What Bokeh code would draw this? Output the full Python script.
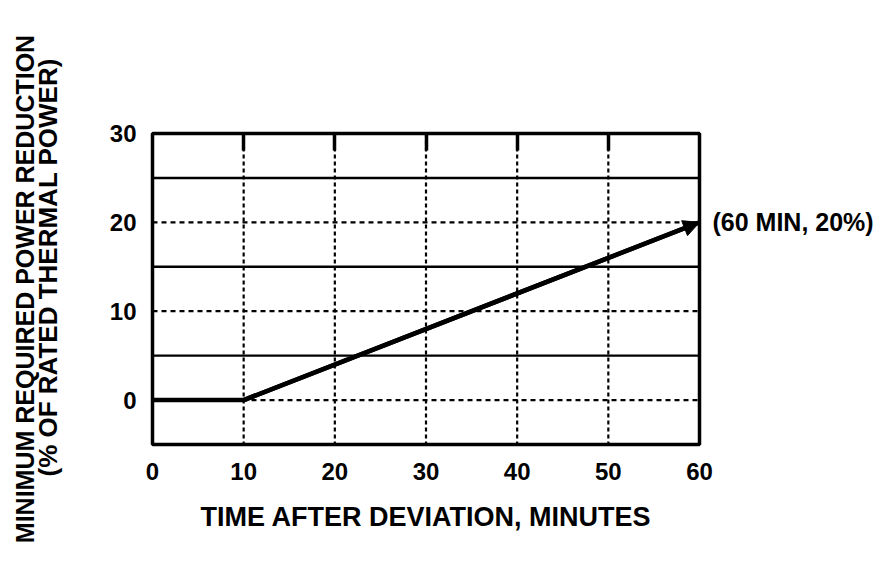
from bokeh.plotting import figure
from bokeh.models import Range1d, FixedTicker, LinearAxis, Span, Arrow, NormalHead
from bokeh.embed import file_html
from bokeh.resources import INLINE

# ---- data ----
time_min = [0, 10, 60]
power_red = [0, 0, 20]
x_ticks = [0, 10, 20, 30, 40, 50, 60]
y_ticks = [0, 10, 20, 30]
grid_x = [10, 20, 30, 40, 50]
grid_y_solid = [5, 15, 25]
grid_y_dotted = [0, 10, 20]
end_label = "(60 MIN, 20%)"
x_title = "TIME AFTER DEVIATION, MINUTES"
y_title_1 = "MINIMUM REQUIRED POWER REDUCTION"
y_title_2 = "(% OF RATED THERMAL POWER)"

FONT = "Liberation Sans"
NBSP = "\u00a0"


def style_labels(ax, size):
    ax.axis_line_color = None
    ax.major_tick_in = 0
    ax.major_tick_out = 0
    ax.minor_tick_in = 0
    ax.minor_tick_out = 0
    ax.major_label_text_font = FONT
    ax.major_label_text_font_style = "bold"
    ax.major_label_text_font_size = size
    ax.major_label_text_color = "black"
    ax.axis_label_text_font = FONT
    ax.axis_label_text_font_style = "bold"
    ax.axis_label_text_font_size = "26px"
    ax.axis_label_text_color = "black"


p = figure(width=876, height=545, output_backend="svg", toolbar_location=None,
           x_range=Range1d(0, 60), y_range=Range1d(-5, 30),
           min_border_left=152, min_border_right=176,
           min_border_top=133, min_border_bottom=101)
p.background_fill_color = "white"
p.border_fill_color = "white"
p.outline_line_color = "black"
p.outline_line_width = 3.5
p.xgrid.visible = False
p.ygrid.visible = False

xa = p.xaxis[0]
ya = p.yaxis[0]
style_labels(xa, "24px")
style_labels(ya, "24px")
xa.ticker = FixedTicker(ticks=x_ticks)
ya.ticker = FixedTicker(ticks=y_ticks)
xa.major_label_standoff = 18
ya.major_label_standoff = 16
xa.axis_label = x_title
xa.axis_label_text_font_size = "27px"
xa.axis_label_standoff = 19
# leading no-break spaces nudge the rotated title upward, as in the original
ya.axis_label = NBSP * 6 + y_title_2
ya.axis_label_standoff = 44

# outer line of the y title
ya2 = LinearAxis(ticker=FixedTicker(ticks=[]), axis_label=y_title_1,
                 axis_label_standoff=-9, major_label_text_font_size="0px")
style_labels(ya2, "0px")
ya2.axis_label_text_font_size = "25px"
p.add_layout(ya2, "left")

# end-point label on the right
ra = LinearAxis(ticker=FixedTicker(ticks=[power_red[-1]]),
                major_label_overrides={power_red[-1]: end_label})
style_labels(ra, "25px")
ra.major_label_standoff = 13
p.add_layout(ra, "right")

# short thick tick marks along the top edge
top = LinearAxis(ticker=FixedTicker(ticks=grid_x), axis_line_color=None,
                 major_tick_in=17, major_tick_out=0, major_tick_line_width=3.5,
                 minor_tick_in=0, minor_tick_out=0,
                 major_label_text_font_size="0px", major_label_text_color=None)
p.add_layout(top, "above")

for gx in grid_x:
    p.add_layout(Span(location=gx, dimension="height", line_color="black",
                      line_width=2.2, line_dash="4 3"))
for gy in grid_y_solid:
    p.add_layout(Span(location=gy, dimension="width", line_color="black",
                      line_width=2.4))
for gy in grid_y_dotted:
    p.add_layout(Span(location=gy, dimension="width", line_color="black",
                      line_width=2.2, line_dash="5 4"))

p.line(time_min, power_red, line_color="black", line_width=4.5)
p.add_layout(Arrow(end=NormalHead(size=16, fill_color="black", line_color="black"),
                   x_start=time_min[1], y_start=power_red[1],
                   x_end=time_min[-1], y_end=power_red[-1],
                   line_color="black", line_width=4.5))

open("out.html", "w").write(file_html(p, INLINE))
